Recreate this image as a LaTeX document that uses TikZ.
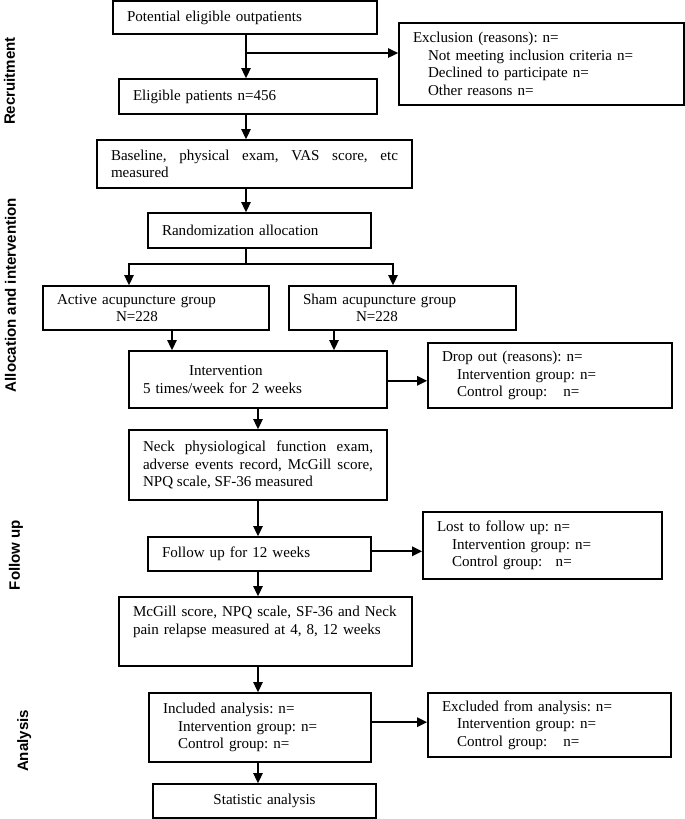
\documentclass[tikz,border=0pt]{standalone}
\usepackage{fontspec}
\setmainfont{Liberation Serif}
\newfontfamily\sidefont{Liberation Sans}
\usetikzlibrary{arrows.meta}
\frenchspacing

\begin{document}
\begin{tikzpicture}[x=0.75pt,y=-0.75pt]

    \tikzset{
      box/.style={
        draw,
        line width=1.3pt,
        rectangle,
        inner xsep=10.5pt,
        inner ysep=0pt,
        align=left,
        font=\fontsize{11.3pt}{13.1pt}\selectfont,
      },
      arr/.style={
        line width=1.3pt,
        -{Triangle[length=7.5pt,width=7pt]},
      },
      side/.style={
        rotate=90,
        anchor=base,
        font=\sidefont\bfseries\fontsize{11.3pt}{13pt}\selectfont,
      },
    }
    \useasboundingbox (0,0) rectangle (685,819);
	% side labels
	\node[side] (recr) at (15,81) {Recruitment};
	\node[side] (alloc) at (16,295) {Allocation and intervention};
	\node[side] (fup) at (20,555) {Follow up};
	\node[side] (anal) at (28,741) {Analysis};
	% boxes
	\node[box, text width=177pt, minimum height=24.75pt] (pot) at (245,17.5) {Potential eligible outpatients};
	\node[box, text width=172.5pt, minimum height=26.25pt] (elig) at (248,96.5) {Eligible patients n=456};
	\node[box, text width=192.75pt, minimum height=61.5pt] (excl) at (541.5,64) {Exclusion (reasons): n=\\\hspace*{11.25pt}Not meeting inclusion criteria n=\\\hspace*{11.25pt}Declined to participate n=\\\hspace*{11.25pt}Other reasons n=};
	\node[box, align=justify, text width=215.25pt, minimum height=36pt] (base) at (254.5,164) {Baseline, physical exam, VAS score, etc\linebreak measured};
	\node[box, text width=146.25pt, minimum height=26.25pt] (rand) at (259.5,230.5) {Randomization allocation};
	\node[box, text width=148.5pt, minimum height=33pt] (act) at (156,308) {Active acupuncture group\\\hspace*{44.25pt}N=228};
	\node[box, text width=149.25pt, minimum height=33pt] (sham) at (402.5,308) {Sham acupuncture group\\\hspace*{39.75pt}N=228};
	\node[box, text width=172.5pt, minimum height=42.75pt] (interv) at (258,379.5) {\hspace*{34.5pt}Intervention\\5 times/week for 2 weeks};
	\node[box, text width=162pt, minimum height=48.75pt] (drop) at (550,375.5) {Drop out (reasons): n=\\\hspace*{11.25pt}Intervention group: n=\\\hspace*{11.25pt}Control group:\hspace{12pt}n=};
	\node[box, align=justify, text width=172.5pt, minimum height=52.5pt] (neck) at (258,465) {Neck physiological function exam,\linebreak adverse events record, McGill score,\linebreak NPQ scale, SF-36 measured};
	\node[box, text width=146.25pt, minimum height=25.5pt] (follow) at (259.5,554) {Follow up for 12 weeks};
	\node[box, text width=158.25pt, minimum height=50.25pt] (lost) at (542.5,545.5) {Lost to follow up: n=\\\hspace*{11.25pt}Intervention group: n=\\\hspace*{11.25pt}Control group:\hspace{10pt}n=};
	\node[box, text width=198.75pt, minimum height=51.75pt] (mcgill) at (265.5,631.5) {\mbox{McGill score, NPQ scale, SF-36 and Neck}\\\mbox{pain relapse measured at 4, 8, 12 weeks}\\\strut};
	\node[box, text width=145.5pt, minimum height=51.75pt] (incl) at (260,727.5) {Included analysis: n=\\\hspace*{11.25pt}Intervention group: n=\\\hspace*{11.25pt}Control group: n=};
	\node[box, text width=161.25pt, minimum height=48pt] (exan) at (549.5,725) {Excluded from analysis: n=\\\hspace*{11.25pt}Intervention group: n=\\\hspace*{11.25pt}Control group:\hspace{12pt}n=};
	\node[box, align=center, text width=146.25pt, minimum height=25.5pt] (stat) at (264.5,801) {Statistic analysis};
	% connectors
	\coordinate (br) at (246,53);
	\coordinate (split) at (246,264);
	\draw[arr] (pot.south -| br) -- (elig.north -| br);
	\draw[arr] (br) -- (br -| excl.west);
	\draw[arr] (elig.south -| br) -- (base.north -| br);
	\draw[arr] (base.south -| br) -- (rand.north -| br);
	\draw[line width=1.3pt] (rand.south -| split) -- (split);
	\draw[arr] (split) -| ([xshift=-20.25pt]act.north);
	\draw[arr] (split) -| ([xshift=-7.125pt]sham.north);
	\draw[arr] ([xshift=12pt]act.south) -- ([xshift=12pt]act.south |- interv.north);
	\draw[arr] ([xshift=-51.375pt]sham.south) -- ([xshift=-51.375pt]sham.south |- interv.north);
	\draw[arr] ([yshift=-1pt]interv.east) -- ([yshift=-1pt]interv.east -| drop.west);
	\draw[arr] (interv) -- (neck);
	\draw[arr] (neck.south) -- (neck.south |- follow.north);
	\draw[arr] ([yshift=2pt]follow.east) -- ([yshift=2pt]follow.east -| lost.west);
	\draw[arr] (follow.south -| neck.south) -- (mcgill.north -| neck.south);
	\draw[arr] (mcgill.south -| neck.south) -- (incl.north -| neck.south);
	\draw[arr] ([yshift=4pt]incl.east) -- ([yshift=4pt]incl.east -| exan.west);
	\draw[arr] (incl.south -| neck.south) -- (stat.north -| neck.south);

\end{tikzpicture}
\end{document}
